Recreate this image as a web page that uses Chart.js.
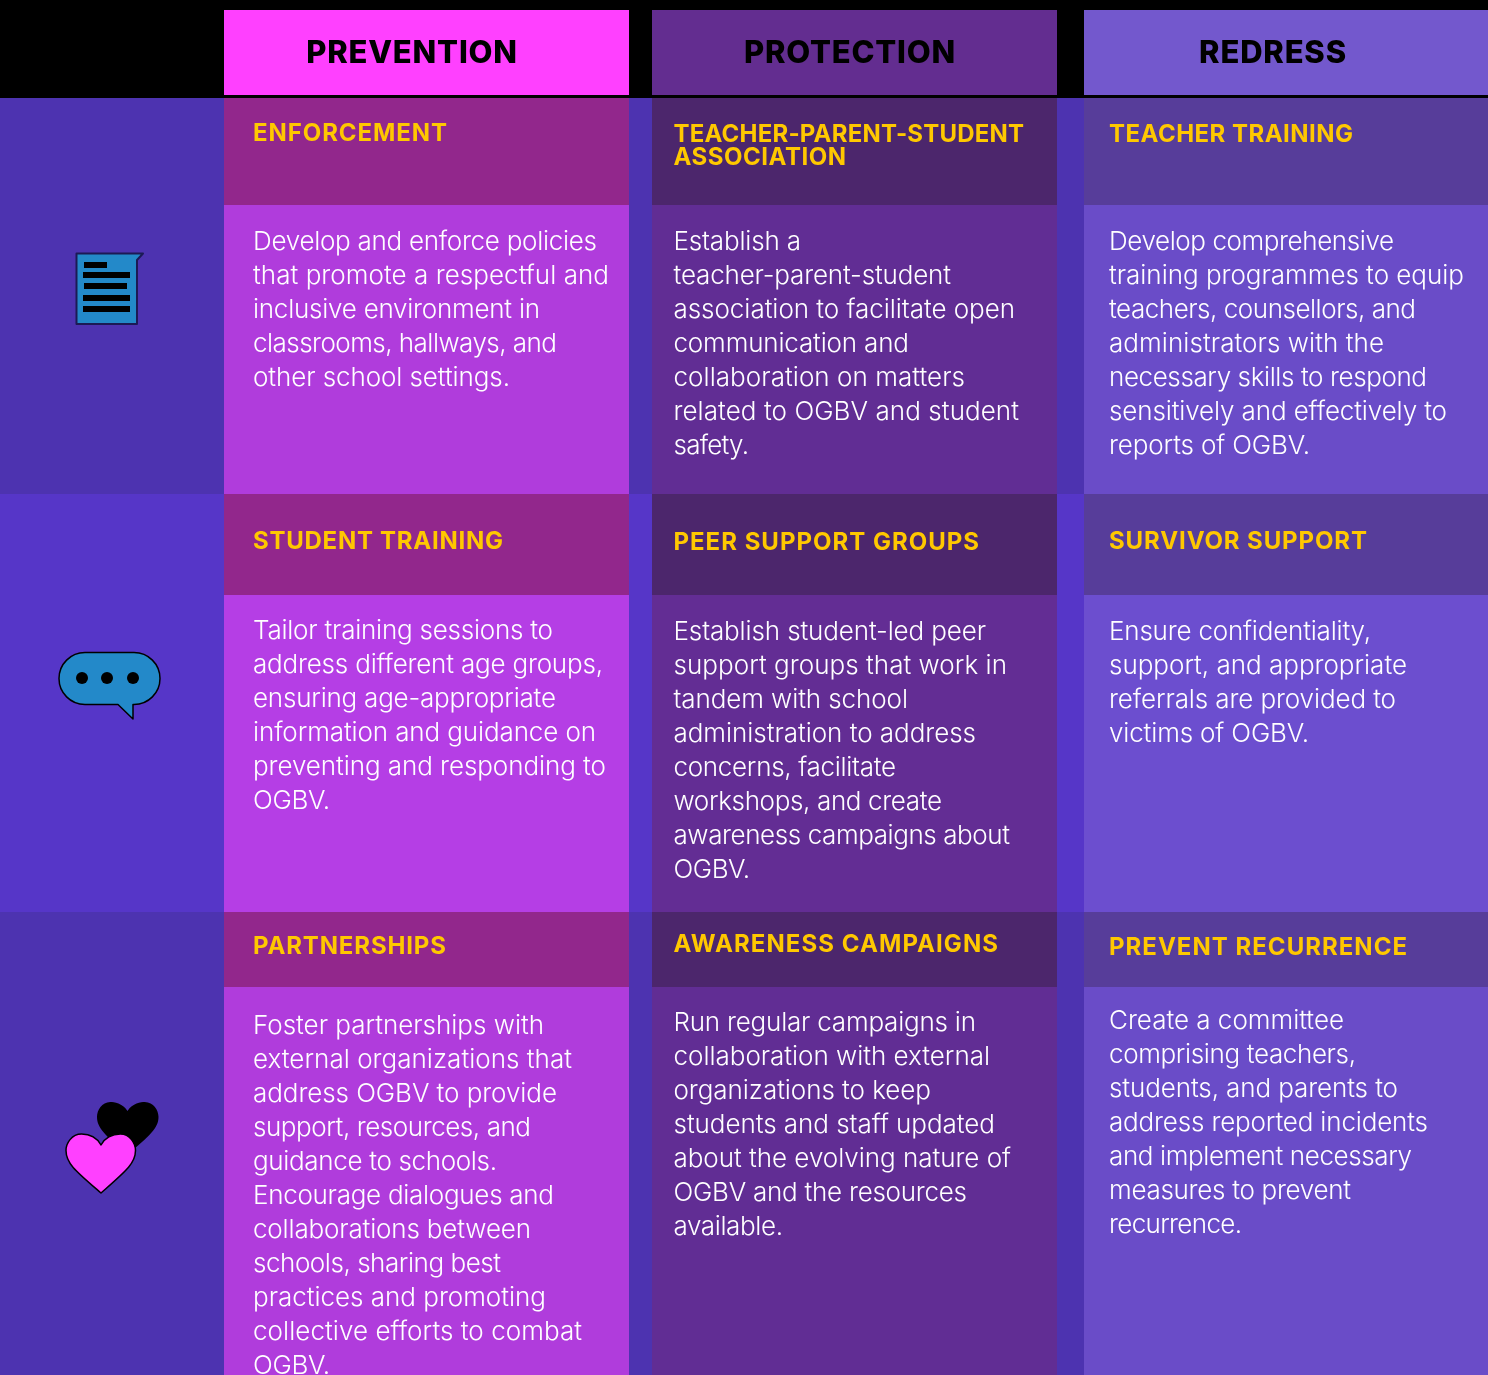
<!DOCTYPE html>
<html><head><meta charset="utf-8">
<style>html,body{margin:0;padding:0;background:#000}canvas{display:block}</style>
<script src="https://cdn.jsdelivr.net/npm/chart.js@4"></script>
</head><body><canvas id="c" width="1488" height="1375"></canvas>
<script>
const columns = ['PREVENTION','PROTECTION','REDRESS'];
const rowTitles = [
 ['ENFORCEMENT',['TEACHER-PARENT-STUDENT','ASSOCIATION'],'TEACHER TRAINING'],
 ['STUDENT TRAINING','PEER SUPPORT GROUPS','SURVIVOR SUPPORT'],
 ['PARTNERSHIPS','AWARENESS CAMPAIGNS','PREVENT RECURRENCE']
];
const bodies = [
 [['Develop and enforce policies','that promote a respectful and','inclusive environment in','classrooms, hallways, and','other school settings.'],
  ['Establish a','teacher-parent-student','association to facilitate open','communication and','collaboration on matters','related to OGBV and student','safety.'],
  ['Develop comprehensive','training programmes to equip','teachers, counsellors, and','administrators with the','necessary skills to respond','sensitively and effectively to','reports of OGBV.']],
 [['Tailor training sessions to','address different age groups,','ensuring age-appropriate','information and guidance on','preventing and responding to','OGBV.'],
  ['Establish student-led peer','support groups that work in','tandem with school','administration to address','concerns, facilitate','workshops, and create','awareness campaigns about','OGBV.'],
  ['Ensure confidentiality,','support, and appropriate','referrals are provided to','victims of OGBV.']],
 [['Foster partnerships with','external organizations that','address OGBV to provide','support, resources, and','guidance to schools.','Encourage dialogues and','collaborations between','schools, sharing best','practices and promoting','collective efforts to combat','OGBV.'],
  ['Run regular campaigns in','collaboration with external','organizations to keep','students and staff updated','about the evolving nature of','OGBV and the resources','available.'],
  ['Create a committee','comprising teachers,','students, and parents to','address reported incidents','and implement necessary','measures to prevent','recurrence.']]
];
// layout
const colEdges = [[224,629],[652,1057],[1084,1488]];
const rowEdges = [98,494,912,1375];
const subBottoms = [205,595,987];
const headerBand = [10,95];
const headerColors = ['#ff40ff','#632d90','#7358cd'];
const subColors = ['#92278c','#4c266c','#573d9a'];
const bodyColors = [['#b03cdc','#612d94','#6a4cc8'],['#b53ee5','#632d94','#6c4ecf'],['#b03cdc','#612d94','#6a4cc8']];
const stripeColors = ['#4d33b0','#5636c8','#4d33b0'];
const textX = [253,673.5,1109];
const headerCx = [412,850,1273];
const subY = [[134,135,135],[542,543,542],[947,945,948]];
const bodyY = [[242,242,242],[631,632,632],[1026,1023,1021]];
const titleEnds = [[447,[1024,846],1353],[503,979,1367],[446,998,1407]];
const bodyEnds = [
 [[597,609,540,557,510],[801,951,1015,909,965,1019,749],[1394,1464,1416,1384,1427,1447,1310]],
 [[553,603,556,596,606,330],[986,1007,908,976,896,942,1010,750],[1371,1407,1396,1309]],
 [[544,572,557,531,497,554,531,501,546,582,330],[976,990,931,995,1011,967,783],[1344,1356,1398,1428,1412,1351,1242]]
];

const FONT='Inter, "Noto Sans", sans-serif';
const datasets=[];
const mk=(cx,w,spans,cols)=>datasets.push({data:spans.map(s=>({x:cx,y:s})),barThickness:w,backgroundColor:cols,borderWidth:0,inflateAmount:0,grouped:false});
colEdges.forEach((e,c)=>{
 const cx=(e[0]+e[1])/2,w=e[1]-e[0];
 mk(cx,w,[headerBand],[headerColors[c]]);
 mk(cx,w,[0,1,2].map(i=>[rowEdges[i],subBottoms[i]]),subColors[c]);
 mk(cx,w,[0,1,2].map(i=>[subBottoms[i],rowEdges[i+1]]),bodyColors.map(r=>r[c]));
});
mk(744,1488,[0,1,2].map(i=>[rowEdges[i],rowEdges[i+1]]),stripeColors);

function fitText(ctx,t,x,y,end){
 ctx.letterSpacing='0px';
 const w=ctx.measureText(t).width;
 ctx.letterSpacing=((end-x-w)/Math.max(1,t.length-1)).toFixed(3)+'px';
 ctx.fillText(t,x,y);
 ctx.letterSpacing='0px';
}
function heart(ctx,l,r,top,ny,by,cx){
 const w=r-l;
 ctx.beginPath();
 ctx.moveTo(cx,ny);
 ctx.bezierCurveTo(cx-w*.08,top+1,cx-w*.22,top,cx-w*.28,top);
 ctx.bezierCurveTo(l+w*.08,top,l,top+(by-top)*.16,l,top+(by-top)*.28);
 ctx.bezierCurveTo(l,top+(by-top)*.5,l+w*.14,top+(by-top)*.63,cx,by);
 ctx.bezierCurveTo(r-w*.14,top+(by-top)*.63,r,top+(by-top)*.5,r,top+(by-top)*.28);
 ctx.bezierCurveTo(r,top+(by-top)*.16,r-w*.08,top,cx+w*.28,top);
 ctx.bezierCurveTo(cx+w*.22,top,cx+w*.08,top+1,cx,ny);
 ctx.closePath();
}
const drawAll={id:'drawAll',afterDatasetsDraw(chart){
 const ctx=chart.ctx;ctx.save();
 // icons
 ctx.lineJoin='round';
 ctx.fillStyle='#2389c9';ctx.strokeStyle='#1c1a55';ctx.lineWidth=2;
 ctx.beginPath();ctx.moveTo(76.5,253.5);ctx.lineTo(143,253.5);ctx.lineTo(137,260);ctx.lineTo(137,324);ctx.lineTo(76.5,324);ctx.closePath();ctx.fill();ctx.stroke();
 ctx.fillStyle='#000';
 [[84,262,23],[83,272,47],[84,283,43],[83,295,47],[83,306,47]].forEach(b=>ctx.fillRect(b[0],b[1],b[2],6));
 ctx.fillStyle='#2389c9';ctx.strokeStyle='#000';ctx.lineWidth=1.5;
 ctx.beginPath();ctx.moveTo(85,652.5);ctx.lineTo(134,652.5);ctx.arc(134,678.5,26,-Math.PI/2,Math.PI/2);ctx.lineTo(133,704.5);ctx.lineTo(133,719);ctx.lineTo(118,704.5);ctx.lineTo(85,704.5);ctx.arc(85,678.5,26,Math.PI/2,Math.PI*1.5);ctx.closePath();ctx.fill();ctx.stroke();
 ctx.fillStyle='#000';
 [82,107,133].forEach(x=>{ctx.beginPath();ctx.arc(x,678,6,0,Math.PI*2);ctx.fill();});
 ctx.fillStyle='#000';heart(ctx,97,158.5,1102,1111,1155,127.5);ctx.fill();
 ctx.fillStyle='#ff40ff';ctx.strokeStyle='#000';ctx.lineWidth=1.5;heart(ctx,66,135.5,1134,1145,1193,101);ctx.fill();ctx.stroke();
 // text
 ctx.textBaseline='middle';
 ctx.font='800 31px '+FONT;ctx.fillStyle='#000';ctx.textAlign='center';ctx.letterSpacing='0.8px';
 columns.forEach((t,i)=>ctx.fillText(t,headerCx[i],53.5));
 ctx.letterSpacing='0px';
 ctx.textAlign='left';
 ctx.font='700 24px '+FONT;ctx.fillStyle='#ffc800';
 rowTitles.forEach((r,i)=>r.forEach((t,c)=>{
  [].concat(t).forEach((l,k)=>fitText(ctx,l,textX[c],subY[i][c]+k*23,[].concat(titleEnds[i][c])[k]));
 }));
 ctx.font='300 26px '+FONT;ctx.fillStyle='#fff';
 bodies.forEach((r,i)=>r.forEach((ls,c)=>{
  ls.forEach((l,k)=>fitText(ctx,l,textX[c],bodyY[i][c]+k*34,bodyEnds[i][c][k]));
 }));
 ctx.restore();
}};
new Chart(document.getElementById('c'),{type:'bar',data:{datasets},plugins:[drawAll],options:{
 responsive:false,animation:false,layout:{padding:0},
 plugins:{legend:{display:false},tooltip:{enabled:false},title:{display:false}},
 scales:{x:{type:'linear',min:0,max:1488,display:false,offset:false,grid:{display:false}},
         y:{type:'linear',min:0,max:1375,reverse:true,display:false,grid:{display:false}}}
}});
</script></body></html>
